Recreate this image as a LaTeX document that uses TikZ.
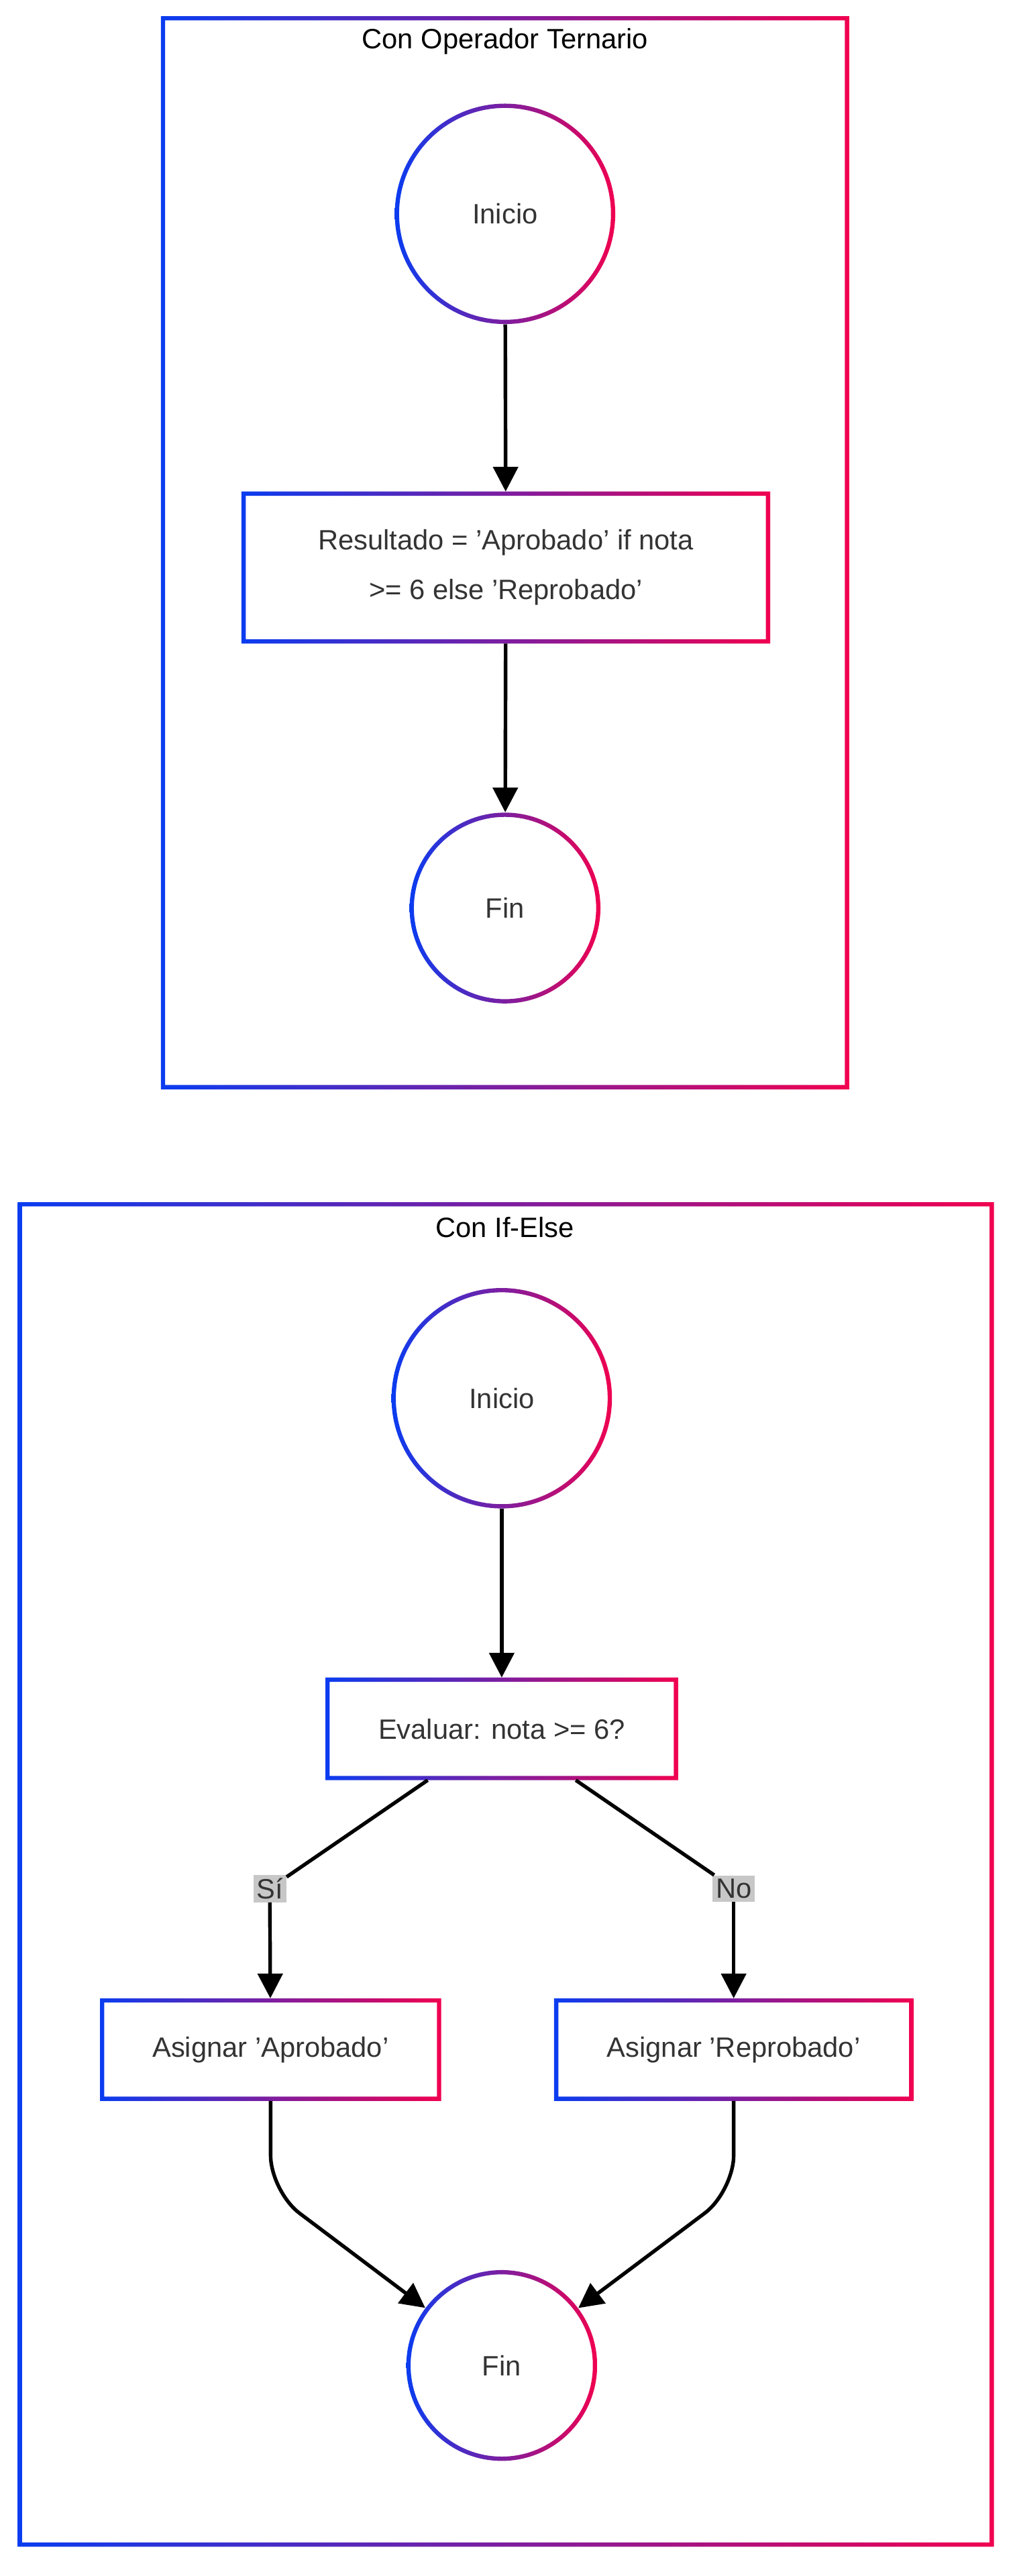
\documentclass[tikz,border=0pt]{standalone}
\usepackage{fontspec}
\setmainfont{Liberation Sans}
\usetikzlibrary{calc,positioning,arrows.meta}
\definecolor{gblue}{HTML}{0A3CF0}
\definecolor{gred}{HTML}{F00050}
\definecolor{txt}{HTML}{333333}
\tikzset{
  line/.style = {-{Triangle[length=15pt,width=15pt]}, line width=2.2pt},
  box/.style  = {align=center, inner sep=0pt, text=txt, font=\fontsize{17}{30}\selectfont},
  roundnode/.style = {box, circle},
  lbl/.style = {fill=black!22, inner sep=2pt, text=txt, font=\fontsize{17}{20}\selectfont},
  title/.style = {font=\fontsize{17}{20}\selectfont},
}
% gradient outlines
\newcommand{\gradbox}[1]{%
  \shade[left color=gblue,right color=gred,even odd rule]
    (#1.south west) rectangle (#1.north east)
    ($(#1.south west)+(2.6,-2.6)$) rectangle ($(#1.north east)+(-2.6,2.6)$);}
\newcommand{\gradcircle}[2]{%
  \shade[left color=gblue,right color=gred,even odd rule]
    (#1.center) circle (#2) (#1.center) circle (#2-2.6);}
\begin{document}
\begin{tikzpicture}[x=1pt,y=-1pt]
  \useasboundingbox (0,0) rectangle (617,1566);
  % frames
  \node[box, minimum width=418pt, minimum height=652pt] (frameA) at (307,336) {};
  \node[box, minimum width=593pt, minimum height=817pt] (frameB) at (307.5,1139.5) {};
  \gradbox{frameA}
  \gradbox{frameB}
  \node[title] (titleA) at (307,25) {Con Operador Ternario};
  \node[title] (titleB) at (307,746) {Con If-Else};
  % ternary
  \node[roundnode, minimum size=134pt] (iniA) at (307,130) {Inicio};
  \node[box, minimum width=321pt, minimum height=92pt] (res) at (307.5,345) {Resultado = 'Aprobado' if nota\\>= 6 else 'Reprobado'};
  \node[roundnode, minimum size=116pt] (finA) at (307,552) {Fin};
  \gradcircle{iniA}{67}
  \gradbox{res}
  \gradcircle{finA}{58}
  \draw[line] (iniA) -- (res);
  \draw[line] (res) -- (finA);
  % if-else
  \node[roundnode, minimum size=134pt] (iniB) at (305,850) {Inicio};
  \node[box, minimum width=214pt, minimum height=62pt] (ev) at (305,1051) {Evaluar: nota >= 6?};
  \node[box, minimum width=207pt, minimum height=62pt] (apr) at (164.5,1246) {Asignar 'Aprobado'};
  \node[box, minimum width=218pt, minimum height=62pt] (rep) at (446,1246) {Asignar 'Reprobado'};
  \node[roundnode, minimum size=116pt] (finB) at (305,1438) {Fin};
  \gradcircle{iniB}{67}
  \gradbox{ev}
  \gradbox{apr}
  \gradbox{rep}
  \gradcircle{finB}{58}
  \node[lbl] (si) at (164,1148) {Sí};
  \node[lbl] (no) at (446,1148) {No};
  \draw[line] (iniB) -- (ev);
  \draw[line width=2.2pt] ($(ev.south)+(-45,0)$) -- (si);
  \draw[line] (si) -- (apr);
  \draw[line width=2.2pt] ($(ev.south)+(45,0)$) -- (no);
  \draw[line] (no) -- (rep);
  \coordinate (kA) at ($(apr.south)+(0,55)$);
  \coordinate (kR) at ($(rep.south)+(0,55)$);
  \draw[line, rounded corners=22pt] (apr.south) -- (kA) -- (finB);
  \draw[line, rounded corners=22pt] (rep.south) -- (kR) -- (finB);
\end{tikzpicture}
\end{document}
